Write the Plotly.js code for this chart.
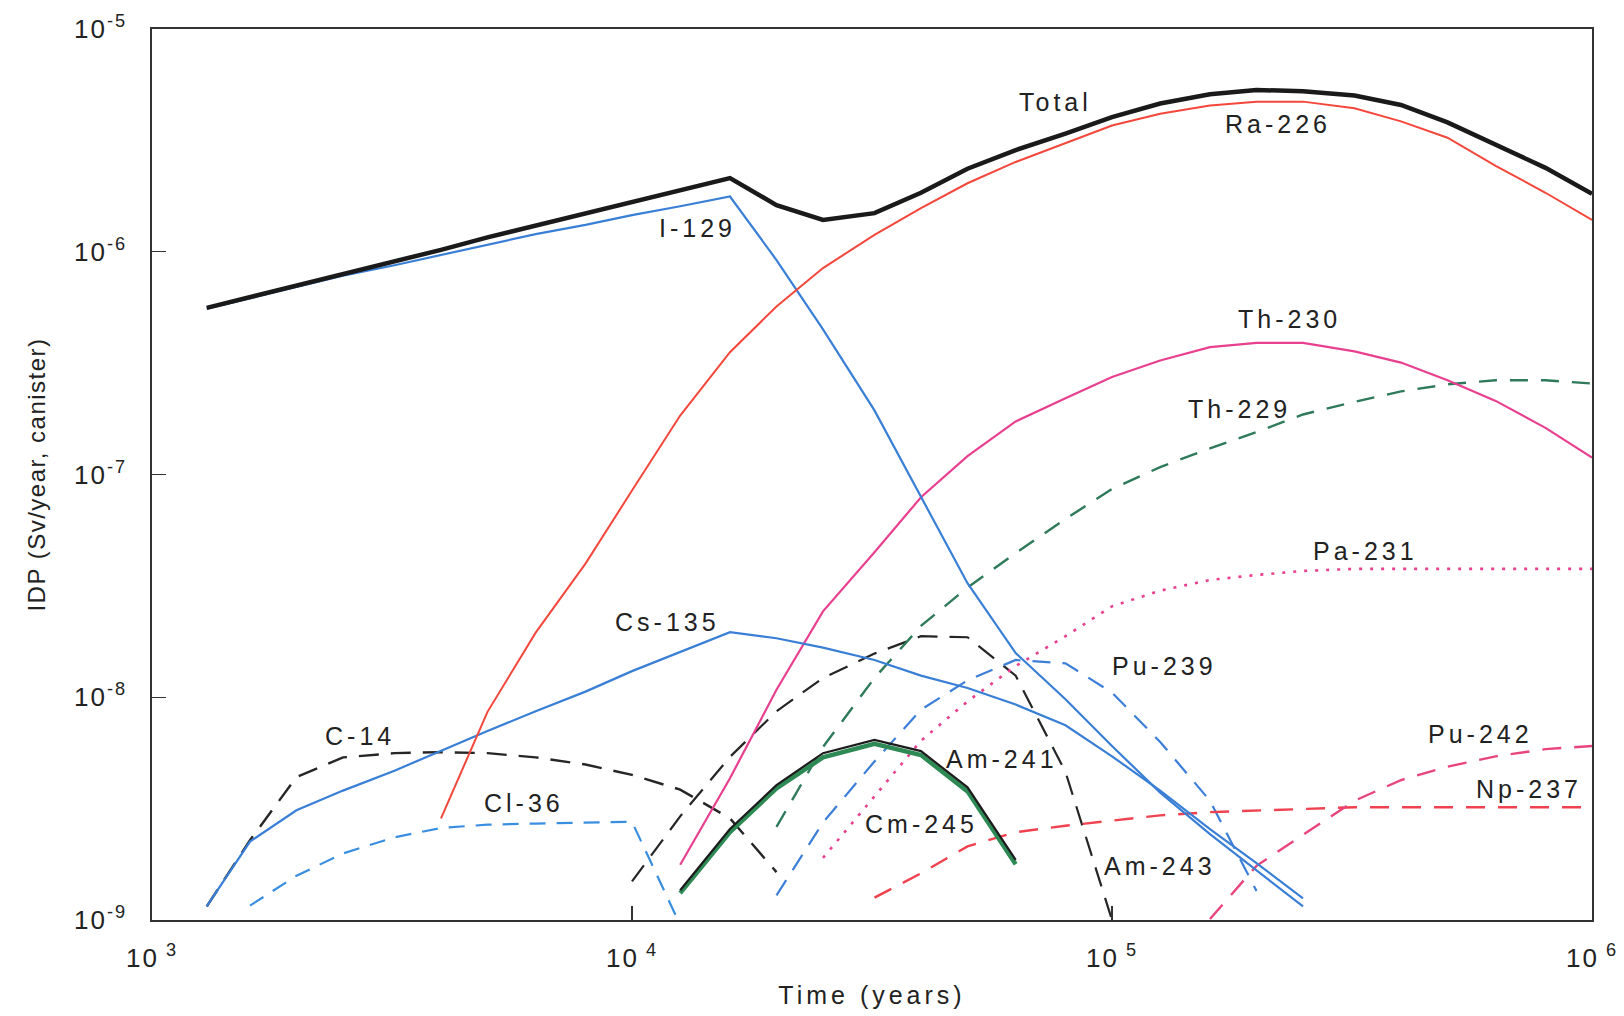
<!DOCTYPE html>
<html>
<head>
<meta charset="utf-8">
<script src="https://cdn.plot.ly/plotly-3.0.1.min.js"></script>
<style>
html,body{margin:0;padding:0;background:#fff;}
#chart{width:1624px;height:1016px;}
#chart .annotation-text{letter-spacing:4px;}
#chart .xtick text, #chart .ytick text, #chart text.xtick, #chart text.ytick{letter-spacing:2px;}
#chart .g-xtitle text{letter-spacing:4px;}
#chart .g-ytitle text{letter-spacing:1.5px;}
</style>
</head>
<body>
<div id="chart"></div>
<script>
const N = null;
// Time (years)
const time = [1300,1600,2000,2500,3200,4000,5000,6300,8000,10000,12600,16000,20000,25000,32000,40000,50000,63000,80000,100000,126000,160000,200000,250000,320000,400000,500000,630000,800000,1000000];
// IDP (Sv/year, canister)
const total  = [5.6e-7,6.25e-7,7.06e-7,7.98e-7,9.03e-7,1.02e-6,1.16e-6,1.31e-6,1.48e-6,1.67e-6,1.89e-6,2.14e-6,1.62e-6,1.39e-6,1.49e-6,1.84e-6,2.36e-6,2.86e-6,3.39e-6,4.02e-6,4.63e-6,5.09e-6,5.32e-6,5.26e-6,5.03e-6,4.56e-6,3.81e-6,3.01e-6,2.38e-6,1.82e-6];
const i129   = [5.55e-7,6.18e-7,6.95e-7,7.81e-7,8.7e-7,9.69e-7,1.08e-6,1.2e-6,1.32e-6,1.46e-6,1.6e-6,1.77e-6,9.18e-7,4.48e-7,1.94e-7,7.9e-8,3.25e-8,1.58e-8,9.8e-9,6.04e-9,3.73e-9,2.43e-9,1.67e-9,1.15e-9,N,N,N,N,N,N];
const cs135  = [1.15e-9,2.25e-9,3.11e-9,3.81e-9,4.68e-9,5.76e-9,7.06e-9,8.65e-9,1.06e-8,1.31e-8,1.6e-8,1.96e-8,1.84e-8,1.67e-8,1.47e-8,1.25e-8,1.1e-8,9.27e-9,7.48e-9,5.43e-9,3.81e-9,2.56e-9,1.8e-9,1.25e-9,N,N,N,N,N,N];
const ra226  = [N,N,N,N,N,2.86e-9,8.6e-9,1.95e-8,3.98e-8,8.47e-8,1.84e-7,3.54e-7,5.68e-7,8.45e-7,1.19e-6,1.57e-6,2.03e-6,2.53e-6,3.08e-6,3.69e-6,4.16e-6,4.53e-6,4.72e-6,4.72e-6,4.41e-6,3.85e-6,3.25e-6,2.43e-6,1.84e-6,1.39e-6];
const th230  = [N,N,N,N,N,N,N,N,N,N,1.77e-9,4.33e-9,1.08e-8,2.43e-8,4.48e-8,7.9e-8,1.21e-7,1.73e-7,2.2e-7,2.74e-7,3.25e-7,3.73e-7,3.9e-7,3.9e-7,3.57e-7,3.18e-7,2.65e-7,2.14e-7,1.62e-7,1.19e-7];
const th229  = [N,N,N,N,N,N,N,N,N,N,N,N,2.62e-9,5.98e-9,1.22e-8,2.09e-8,3.11e-8,4.44e-8,6.31e-8,8.61e-8,1.08e-7,1.31e-7,1.55e-7,1.86e-7,2.12e-7,2.36e-7,2.54e-7,2.65e-7,2.65e-7,2.56e-7];
const pa231  = [N,N,N,N,N,N,N,N,N,N,N,N,N,1.9e-9,3.57e-9,6.38e-9,9.58e-9,1.38e-8,1.88e-8,2.56e-8,3.01e-8,3.36e-8,3.54e-8,3.69e-8,3.77e-8,3.77e-8,3.77e-8,3.77e-8,3.77e-8,3.77e-8];
const c14    = [1.15e-9,2.28e-9,4.38e-9,5.37e-9,5.61e-9,5.67e-9,5.61e-9,5.37e-9,4.99e-9,4.48e-9,3.85e-9,2.86e-9,1.64e-9,N,N,N,N,N,N,N,N,N,N,N,N,N,N,N,N,N];
const cl36   = [N,1.16e-9,1.58e-9,1.99e-9,2.35e-9,2.59e-9,2.68e-9,2.71e-9,2.74e-9,2.76e-9,9.5e-10,N,N,N,N,N,N,N,N,N,N,N,N,N,N,N,N,N,N,N];
const am243  = [N,N,N,N,N,N,N,N,N,1.49e-9,2.92e-9,5.4e-9,8.65e-9,1.22e-8,1.57e-8,1.88e-8,1.86e-8,1.25e-8,4.62e-9,1.0e-9,N,N,N,N,N,N,N,N,N,N];
const am241  = [N,N,N,N,N,N,N,N,N,N,1.36e-9,2.56e-9,4.03e-9,5.61e-9,6.44e-9,5.73e-9,3.94e-9,1.86e-9,N,N,N,N,N,N,N,N,N,N,N,N];
const cm245  = [N,N,N,N,N,N,N,N,N,N,1.32e-9,2.48e-9,3.9e-9,5.37e-9,6.18e-9,5.5e-9,3.78e-9,1.78e-9,N,N,N,N,N,N,N,N,N,N,N,N];
const pu239  = [N,N,N,N,N,N,N,N,N,N,N,N,1.29e-9,2.74e-9,5.15e-9,8.79e-9,1.19e-8,1.47e-8,1.42e-8,1.05e-8,6.3e-9,3.43e-9,1.35e-9,N,N,N,N,N,N,N];
const np237  = [N,N,N,N,N,N,N,N,N,N,N,N,N,N,1.26e-9,1.62e-9,2.14e-9,2.48e-9,2.65e-9,2.8e-9,2.95e-9,3.05e-9,3.11e-9,3.15e-9,3.21e-9,3.21e-9,3.21e-9,3.21e-9,3.21e-9,3.21e-9];
const pu242  = [N,N,N,N,N,N,N,N,N,N,N,N,N,N,N,N,N,N,N,N,N,1.01e-9,1.75e-9,2.41e-9,3.43e-9,4.25e-9,4.88e-9,5.43e-9,5.85e-9,6.04e-9];

const xTickVals = [1e3,1e4,1e5,1e6];
const xTickText = ['10<sup> 3</sup>','10<sup> 4</sup>','10<sup> 5</sup>','10<sup> 6</sup>'];
const yTickVals = [1e-9,1e-8,1e-7,1e-6,1e-5];
const yTickText = ['10<sup>-9</sup>','10<sup>-8</sup>','10<sup>-7</sup>','10<sup>-6</sup>','10<sup>-5</sup>'];

function tr(name, y, color, width, dash) {
  return {type:'scatter', mode:'lines', name:name, x:time, y:y, connectgaps:false,
          line:{color:color, width:width, dash:dash || 'solid'}, hoverinfo:'skip'};
}

const traces = [
  tr('C-14', c14, '#262626', 2.4, '20px,12px'),
  tr('Cl-36', cl36, '#3a8ee0', 2.2, '16px,11px'),
  tr('Am-243', am243, '#262626', 2.2, '20px,12px'),
  tr('Pu-239', pu239, '#3d7fd8', 2.2, '18px,12px'),
  tr('Th-229', th229, '#2e7a5a', 2.4, '18px,13px'),
  tr('Pa-231', pa231, '#e8408f', 2.6, '3px,8px'),
  tr('Np-237', np237, '#f0414f', 2.4, '19px,13px'),
  tr('Pu-242', pu242, '#e8457c', 2.4, '19px,13px'),
  tr('Th-230', th230, '#e8408f', 2.2),
  tr('Cs-135', cs135, '#3a7fd6', 2.2),
  tr('I-129', i129, '#3a7fd6', 2.2),
  tr('Ra-226', ra226, '#f4473c', 2.0),
  tr('Cm-245', cm245, '#2e8a55', 4.5),
  tr('Am-241', am241, '#1c1c1c', 2.2),
  tr('Total', total, '#1a1a1a', 4.5)
];

const labels = [
  ['Total', 4.882, -5.326], ['Ra-226', 5.345, -5.428], ['I-129', 4.137, -5.893],
  ['Th-230', 5.369, -6.302], ['Th-229', 5.265, -6.707], ['Pa-231', 5.529, -7.344],
  ['Cs-135', 4.074, -7.660], ['Pu-239', 5.109, -7.860], ['C-14', 3.434, -8.172],
  ['Am-241', 4.770, -8.279], ['Pu-242', 5.768, -8.163], ['Cl-36', 3.774, -8.474],
  ['Np-237', 5.868, -8.414], ['Cm-245', 4.604, -8.567], ['Am-243', 5.099, -8.758]
];
const annotations = labels.map(l => ({
  text:l[0], x:l[1], y:l[2], xref:'x', yref:'y', showarrow:false,
  font:{family:'Liberation Sans, Arial, sans-serif', size:25, color:'#222'},
  xanchor:'center', yanchor:'middle'
}));

const axisCommon = {
  type:'log', showgrid:false, zeroline:false, showline:true, mirror:true,
  linecolor:'#333', linewidth:1.6, ticks:'inside', ticklen:14, tickwidth:1.4, tickcolor:'#333',
  tickmode:'array', automargin:false,
  tickfont:{family:'Liberation Sans, Arial, sans-serif', size:26, color:'#222'}
};

const layout = {
  width:1624, height:1016,
  margin:{l:152, r:32, t:29, b:96},
  paper_bgcolor:'#ffffff', plot_bgcolor:'#ffffff',
  showlegend:false,
  font:{family:'Liberation Sans, Arial, sans-serif', color:'#222'},
  xaxis:Object.assign({}, axisCommon, {
    range:[3,6], tickvals:xTickVals, ticktext:xTickText, ticklabelstandoff:14,
    title:{text:'Time (years)', font:{size:25, color:'#222'}, standoff:15}
  }),
  yaxis:Object.assign({}, axisCommon, {
    range:[-9,-5], tickvals:yTickVals, ticktext:yTickText, ticklabelstandoff:18,
    title:{text:'IDP (Sv/year, canister)', font:{size:24, color:'#222'}, standoff:30}
  }),
  annotations:annotations
};

Plotly.newPlot('chart', traces, layout, {displayModeBar:false, staticPlot:true});
</script>
</body>
</html>
